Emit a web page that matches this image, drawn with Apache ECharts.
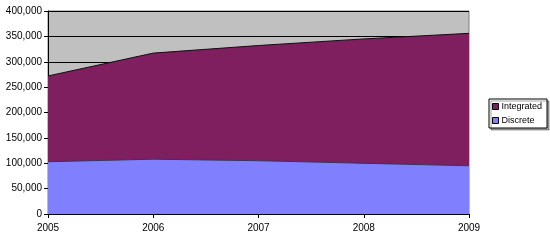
<!DOCTYPE html>
<html><head><meta charset="utf-8">
<script src="https://cdn.jsdelivr.net/npm/echarts@6/dist/echarts.min.js"></script>
<style>html,body{margin:0;padding:0;background:#fff}#c{width:550px;height:250px}</style>
</head><body><div id="c"></div>
<script>
var years = ['2005','2006','2007','2008','2009'];
var discrete = [103000, 108000, 105000, 100000, 95000];
var integrated = [169000, 209000, 227000, 245000, 261000];
var yTicks = [0, 50000, 100000, 150000, 200000, 250000, 300000, 350000, 400000];

var chart = echarts.init(document.getElementById('c'), null, {renderer:'canvas'});
var font = 'Liberation Sans, Arial, sans-serif';
chart.setOption({
  animation:false,
  backgroundColor:'#fff',
  grid:{left:48,right:81,top:11,bottom:36,show:true,backgroundColor:'#c0c0c0',borderColor:'#808080',borderWidth:1},
  legend:{
    orient:'vertical', left:489, top:99, padding:[3,5,3,3],
    borderColor:'#000', borderWidth:1, itemGap:5, backgroundColor:'#fff',
    shadowColor:'rgba(0,0,0,0.35)', shadowOffsetX:2, shadowOffsetY:2, shadowBlur:0,
    itemWidth:6, itemHeight:6, icon:'rect',
    textStyle:{fontFamily:font,fontSize:9,color:'#000',padding:[0,0,0,-2]},
    data:[{name:'Integrated',itemStyle:{borderColor:'#000',borderWidth:1}},{name:'Discrete',itemStyle:{borderColor:'#000',borderWidth:1}}]
  },
  xAxis:{type:'category',data:years,boundaryGap:false,
    axisLine:{lineStyle:{color:'#000'}},axisTick:{show:true,length:4,lineStyle:{color:'#000'}},
    axisLabel:{fontFamily:font,fontSize:10,color:'#000',margin:9},splitLine:{show:false}},
  yAxis:{type:'value',min:0,max:400000,interval:50000,
    axisLine:{show:true,lineStyle:{color:'#000'}},axisTick:{show:true,length:4,lineStyle:{color:'#000'}},
    axisLabel:{fontFamily:font,fontSize:10,color:'#000',margin:6,
      formatter:function(v){return yTicks.indexOf(v)>=0?v.toLocaleString('en-US'):'';}},
    splitLine:{show:true,lineStyle:{color:'#000',width:1}}},
  series:[
    {name:'Discrete',type:'line',stack:'t',data:discrete,symbol:'none',
      itemStyle:{color:'#8080ff'},lineStyle:{color:'#333366',width:1},areaStyle:{color:'#8080ff',opacity:1}},
    {name:'Integrated',type:'line',stack:'t',data:integrated,symbol:'none',
      itemStyle:{color:'#7f1f5f'},lineStyle:{color:'#1a0a14',width:1},areaStyle:{color:'#7f1f5f',opacity:1}}
  ]
});
</script></body></html>
